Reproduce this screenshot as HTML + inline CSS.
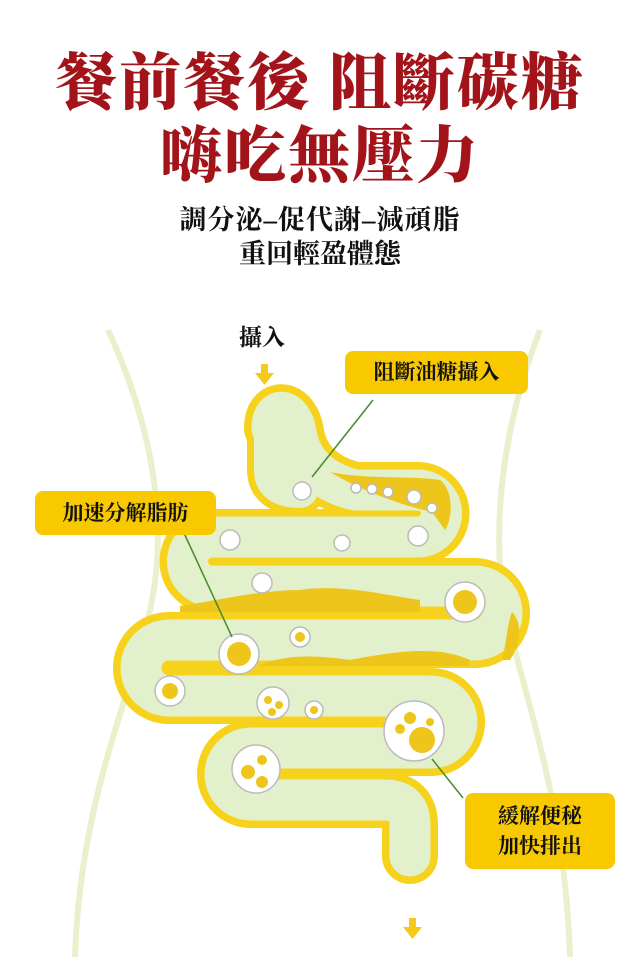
<!DOCTYPE html>
<html><head><meta charset="utf-8"><style>
body{margin:0;width:640px;height:957px;background:#fff;overflow:hidden;position:relative;font-family:"Liberation Serif","Noto Serif CJK SC",serif}
.t{position:absolute;left:0;width:640px;text-align:center;font-weight:900;color:#a3141a}
.s{position:absolute;left:0;width:640px;text-align:center;font-weight:700;color:#111;font-size:27px}
.lab{position:absolute;background:#f9c900;border-radius:8px;font-weight:700;color:#111;font-size:21px;text-align:center}
</style></head><body>
<div class="t" style="top:33px;font-size:62px;letter-spacing:2px">餐前餐後 阻斷碳糖</div>
<div class="t" style="top:106px;font-size:62px;letter-spacing:2px">嗨吃無壓力</div>
<div class="s" style="top:198px;letter-spacing:1px">調分泌–促代謝–減頑脂</div>
<div class="s" style="top:232px">重回輕盈體態</div>
<svg style="position:absolute;left:0;top:0" width="640" height="957">
<g fill="none" stroke="#e4efc6" stroke-width="6" opacity="0.9">
<path d="M108,330 C150,420 170,520 150,610 C130,700 80,800 75,957"/>
<path d="M540,330 C505,420 490,520 505,610 C525,700 565,800 570,957"/>
</g>
<g fill="none" stroke-linecap="round" stroke-linejoin="round">
<path d="M272,428 C272,405 292,408 296,432 C300,462 322,482 355,490 L418,490 A23.5,23.5 0 0 1 418,537 L212,537 A24.5,24.5 0 0 0 212,586 L475,586 A27,27 0 0 1 475,640 L169,640 A28,28 0 0 0 169,696 L431,696 A26,26 0 0 1 431,748 L251,748 A26,26 0 0 0 251,800 L385,800 Q410,800 410,825 L410,856" stroke="#f6d21c" stroke-width="56"/>
<path d="M272,428 L272,470 Q272,490 300,490" stroke="#f6d21c" stroke-width="50"/>
<path d="M272,428 C272,405 292,408 296,432 C300,462 322,482 355,490 L418,490 A23.5,23.5 0 0 1 418,537 L212,537 A24.5,24.5 0 0 0 212,586 L475,586 A27,27 0 0 1 475,640 L169,640 A28,28 0 0 0 169,696 L431,696 A26,26 0 0 1 431,748 L251,748 A26,26 0 0 0 251,800 L385,800 Q410,800 410,825 L410,856" stroke="#e3f0cc" stroke-width="41"/>
<path d="M272,428 L272,470 Q272,490 300,490" stroke="#e3f0cc" stroke-width="36"/>
</g>
<g fill="#eec51a">
<path d="M330,472 C370,480 410,475 440,480 C455,492 452,520 445,530 L432,512 C400,505 360,490 330,472Z"/>
<path d="M180,606 C220,600 260,590 300,590 C340,584 380,594 420,600 L420,612 L180,612Z"/>
<path d="M260,665 C290,652 330,657 350,660 C400,650 440,646 470,660 L470,666 L260,666Z"/>
<path d="M512,612 C522,622 522,642 510,660 L502,660 C507,640 507,625 512,612Z"/>
</g>
<g fill="#fff" stroke="#bbb" stroke-width="1.5">
<circle cx="302" cy="491" r="9"/><circle cx="356" cy="488" r="5"/><circle cx="372" cy="489" r="5"/><circle cx="388" cy="492" r="5"/><circle cx="414" cy="497" r="7"/><circle cx="432" cy="508" r="5"/>
<circle cx="230" cy="540" r="10"/><circle cx="342" cy="543" r="8"/><circle cx="418" cy="536" r="10"/>
<circle cx="262" cy="583" r="10"/><circle cx="465" cy="602" r="20"/>
<circle cx="239" cy="654" r="20"/><circle cx="300" cy="637" r="10"/>
<circle cx="170" cy="691" r="15"/><circle cx="273" cy="703" r="16"/><circle cx="314" cy="710" r="9"/><circle cx="414" cy="731" r="30"/>
<circle cx="256" cy="769" r="24"/>
</g>
<g fill="#eec51a">
<circle cx="465" cy="602" r="12"/><circle cx="239" cy="654" r="12"/><circle cx="300" cy="637" r="5"/><circle cx="170" cy="691" r="8"/>
<circle cx="268" cy="700" r="4"/><circle cx="279" cy="705" r="4"/><circle cx="272" cy="712" r="4"/><circle cx="314" cy="710" r="4"/>
<circle cx="422" cy="740" r="13"/><circle cx="410" cy="718" r="6"/><circle cx="400" cy="729" r="5"/><circle cx="430" cy="722" r="4"/>
<circle cx="248" cy="772" r="7"/><circle cx="262" cy="760" r="5"/><circle cx="262" cy="782" r="6"/>
</g>
<g stroke="#4a8a2a" stroke-width="1.5">
<line x1="373" y1="400" x2="312" y2="477"/>
<line x1="184" y1="533" x2="232" y2="637"/>
<line x1="432" y1="759" x2="463" y2="798"/>
</g>
<g fill="#f6c81a">
<path d="M261,364 h7 v9 h6 l-9.5,12 l-9.5,-12 h6z"/>
<path d="M409,918 h7 v9 h6 l-9.5,12 l-9.5,-12 h6z"/>
</g>
<text x="262" y="345" text-anchor="middle" font-size="23" font-weight="700" fill="#111" font-family="Liberation Serif,Noto Serif CJK SC,serif">攝入</text>
</svg>
<div class="lab" style="left:345px;top:351px;width:183px;height:43px;line-height:43px">阻斷油糖攝入</div>
<div class="lab" style="left:35px;top:491px;width:181px;height:44px;line-height:44px">加速分解脂肪</div>
<div class="lab" style="left:465px;top:793px;width:150px;height:76px;line-height:30px;padding-top:8px;box-sizing:border-box">緩解便秘<br>加快排出</div>
</body></html>
